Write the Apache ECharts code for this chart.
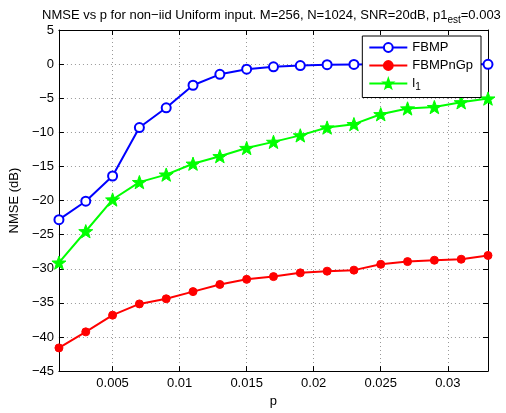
<!DOCTYPE html>
<html><head><meta charset="utf-8">
<script src="https://cdn.jsdelivr.net/npm/echarts@6/dist/echarts.min.js"></script>
<style>html,body{margin:0;padding:0;background:#fff}#c{width:506px;height:413px}</style>
</head><body><div id="c"></div>
<script>
const pValues = [0.001,0.003,0.005,0.007,0.009,0.011,0.013,0.015,0.017,0.019,0.021,0.023,0.025,0.027,0.029,0.031,0.033];
const fbmp = [-22.8,-20.1,-16.4,-9.3,-6.4,-3.1,-1.5,-0.75,-0.4,-0.22,-0.08,-0.04,-0.02,-0.02,-0.02,-0.02,-0.03];
const fbmpnGp = [-41.6,-39.25,-36.8,-35.15,-34.4,-33.35,-32.3,-31.55,-31.15,-30.6,-30.35,-30.2,-29.35,-28.95,-28.75,-28.6,-28.05];
const l1 = [-29.1,-24.5,-19.85,-17.3,-16.2,-14.6,-13.5,-12.3,-11.4,-10.45,-9.3,-8.8,-7.35,-6.5,-6.3,-5.6,-5.05];
const xTicks = [0.005,0.01,0.015,0.02,0.025,0.03];
const seriesNames = ['FBMP','FBMPnGp','l1'];

const FONT = 'Liberation Sans, Arial, sans-serif';
const star = 'path://M0,-10L2.35,-3.24L9.51,-3.09L3.8,1.24L5.88,8.09L0,4.2L-5.88,8.09L-3.8,1.24L-9.51,-3.09L-2.35,-3.24Z';
const pair = a => a.map((v,i)=>[pValues[i], v]);
const minus = v => String(v).replace('-', '\u2212');

const chart = echarts.init(document.getElementById('c'));
const gridLine = {show:true, lineStyle:{color:'#999', type:[1,3], width:1}};
chart.setOption({
  animation:false,
  backgroundColor:'#fff',
  title:{
    text:'{t|NMSE vs p for non\u2212iid Uniform input. M=256, N=1024, SNR=20dB, p1}{s|est}{t|=0.003}',
    left:37, top:1,
    textStyle:{fontWeight:'normal', rich:{
      t:{fontFamily:FONT, fontSize:13, fontWeight:'normal', color:'#000', lineHeight:16},
      s:{fontFamily:FONT, fontSize:10, fontWeight:'normal', color:'#000', padding:[9,0,0,0]}
    }}
  },
  grid:{left:54, right:18, top:30, bottom:41},
  legend:{
    right:25, top:36, orient:'vertical',
    backgroundColor:'#fff', borderColor:'#000', borderWidth:1, borderRadius:0,
    padding:[5,8,5,6], itemGap:5, itemWidth:38, itemHeight:11,
    data:seriesNames,
    formatter: n => n==='l1' ? '{a|l}{b|1}' : '{a|'+n+'}',
    textStyle:{fontFamily:FONT, fontSize:13, color:'#000', rich:{
      a:{fontFamily:FONT, fontSize:13, color:'#000'},
      b:{fontFamily:FONT, fontSize:10, color:'#000', padding:[8,0,0,0]}
    }}
  },
  xAxis:[{
    type:'value', min:0.001, max:0.033,
    name:'p', nameLocation:'middle', nameGap:22,
    nameTextStyle:{fontFamily:FONT, fontSize:13, color:'#000'},
    axisLine:{onZero:false, lineStyle:{color:'#000', width:1}},
    axisTick:{inside:true, length:5, customValues:xTicks, lineStyle:{color:'#000'}},
    axisLabel:{customValues:xTicks, fontFamily:FONT, fontSize:13, color:'#000', margin:6, formatter:v=>String(+v.toFixed(4))},
    splitLine:gridLine
  },{
    type:'value', min:0.001, max:0.033, position:'top',
    axisLine:{onZero:false, lineStyle:{color:'#000', width:1}},
    axisTick:{inside:true, length:5, customValues:xTicks, lineStyle:{color:'#000'}},
    axisLabel:{show:false}, splitLine:{show:false}
  }],
  yAxis:[{
    type:'value', min:-45, max:5, interval:5,
    name:'NMSE (dB)', nameLocation:'middle', nameGap:33,
    nameTextStyle:{fontFamily:FONT, fontSize:13, color:'#000'},
    axisLine:{show:true, onZero:false, lineStyle:{color:'#000', width:1}},
    axisTick:{show:true, inside:true, length:5, lineStyle:{color:'#000'}},
    axisLabel:{fontFamily:FONT, fontSize:13, color:'#000', margin:5, formatter:minus},
    splitLine:gridLine
  },{
    type:'value', min:-45, max:5, interval:5, position:'right',
    axisLine:{show:true, onZero:false, lineStyle:{color:'#000', width:1}},
    axisTick:{show:true, inside:true, length:5, lineStyle:{color:'#000'}},
    axisLabel:{show:false}, splitLine:{show:false}
  }],
  series:[
    {name:'FBMP', type:'line', data:pair(fbmp), color:'#0000ff', symbol:'circle', symbolSize:9,
     lineStyle:{width:2, color:'#0000ff'}, itemStyle:{color:'#fff', borderColor:'#0000ff', borderWidth:2}, z:3},
    {name:'FBMPnGp', type:'line', data:pair(fbmpnGp), color:'#ff0000', symbol:'circle', symbolSize:8,
     lineStyle:{width:2, color:'#ff0000'}, itemStyle:{color:'#ff0000', borderColor:'#ff0000', borderWidth:1}, z:3},
    {name:'l1', type:'line', data:pair(l1), color:'#00ff00', symbol:star, symbolSize:14, symbolKeepAspect:true,
     lineStyle:{width:2, color:'#00ff00'}, itemStyle:{color:'#00ff00', borderColor:'#00ff00', borderWidth:1}, z:3}
  ]
});
</script></body></html>
